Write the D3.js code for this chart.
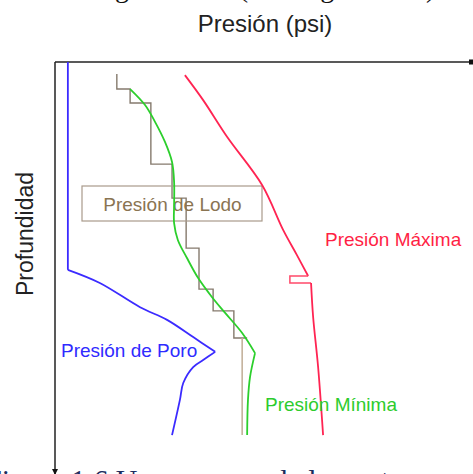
<!DOCTYPE html>
<html>
<head>
<meta charset="utf-8">
<script src="https://cdn.jsdelivr.net/npm/d3@7"></script>
<style>
  html, body { margin: 0; padding: 0; background: #fff; overflow: hidden; }
  svg { display: block; }
</style>
</head>
<body>
<svg id="chart" width="473" height="474"></svg>
<script>
// ---- Data (pressure in psi, depth in ft) ----
const porePsi   = [310, 310, 1080, 2050, 2700, 3330, 3860, 3570, 3330, 3090, 3010, 2820];
const poreDepth = [0, 5070, 5390, 5980, 6290, 6710, 7070, 7270, 7440, 7830, 8240, 9100];
const poreCorners = [1, 6];

const minPsi   = [1810, 2170, 2410, 2650, 2820, 2870, 2870, 2870, 2960, 3180, 3450, 3780, 4100, 4510, 4820, 4700, 4650, 4630];
const minDepth = [660, 1050, 1460, 1950, 2440, 2930, 3490, 3930, 4340, 4780, 5270, 5730, 6120, 6610, 7100, 7680, 8240, 9100];
const minCorners = [14];

const maxPsi   = [3130, 3570, 4150, 4990, 5500, 5830, 6100, 5660, 5660, 6170, 6220, 6340, 6460];
const maxDepth = [320, 930, 1830, 3000, 4100, 4710, 5220, 5220, 5390, 5390, 6220, 7440, 9100];
const maxSmooth = [[0, 6], [9, 12]];   // index ranges drawn smooth; the rest is straight

const mudPsi   = [1490, 1810, 2310, 2820, 3160, 3470, 3810, 4310, 4630];
const mudDepth = [290, 660, 1000, 2490, 3320, 4540, 5540, 6070, 6730];

const casingPsi = [4510, 4510];
const casingDepth = [6730, 9100];

const labels = ["Presión de Lodo", "Presión de Poro", "Presión Máxima", "Presión Mínima"];
const xTitle = "Presión (psi)";
const yTitle = "Profundidad";
const captions = ["Figura 1.5 Carga de lodo (Datos generales)", "Figura 1.6 Un esquema de la ventana operacional"];

// ---- Layout ----
const svg = d3.select("#chart");
const x = d3.scaleLinear().domain([0, 10000]).range([55, 470]);
const y = d3.scaleLinear().domain([0, 10000]).range([62, 472]);
const FONT = "'Liberation Sans', Arial, sans-serif";
const SERIF = "'Liberation Serif', 'Times New Roman', serif";

const zip = (a, b) => a.map((v, i) => [v, b[i]]);
const smooth = d3.line().x(d => x(d[0])).y(d => y(d[1])).curve(d3.curveCatmullRom.alpha(0.5));
const straight = d3.line().x(d => x(d[0])).y(d => y(d[1]));

function splitAt(pts, corners) {
  const idx = [0, ...corners, pts.length - 1];
  const segs = [];
  for (let i = 0; i < idx.length - 1; i++) segs.push(pts.slice(idx[i], idx[i + 1] + 1));
  return segs;
}

// Caption fragments (cut off at the page edges, as in the reference)
svg.append("text").attr("x", -47).attr("y", -3)
  .attr("font-family", SERIF).attr("font-size", 28).attr("fill", "#111")
  .text(captions[0]);
svg.append("text").attr("x", -15).attr("y", 490)
  .attr("font-family", SERIF).attr("font-size", 30).attr("fill", "#1c2c5e")
  .text(captions[1]);

// Titles
svg.append("text").attr("x", 265).attr("y", 32).attr("text-anchor", "middle")
  .attr("font-family", FONT).attr("font-size", 24).attr("fill", "#222").text(xTitle);
svg.append("text").attr("transform", "translate(33,234) rotate(-90)").attr("text-anchor", "middle")
  .attr("font-family", FONT).attr("font-size", 23).attr("fill", "#222").text(yTitle);

// Axes
const g = svg.append("g");
g.append("line").attr("x1", x(0)).attr("x2", x(10000)).attr("y1", y(0)).attr("y2", y(0))
  .attr("stroke", "#222").attr("stroke-width", 1.5);
g.append("rect").attr("x", x(10000) - 1).attr("y", y(0) - 2.5).attr("width", 4).attr("height", 5).attr("fill", "#111");
g.append("line").attr("x1", x(0)).attr("x2", x(0)).attr("y1", y(0)).attr("y2", 474)
  .attr("stroke", "#222").attr("stroke-width", 1.5);
g.append("path").attr("d", `M${x(0) - 3},${469} L${x(0) + 3},${469} L${x(0)},${475} Z`).attr("fill", "#111");

// Mud step line
const mudPts = [];
for (let i = 0; i < mudPsi.length - 1; i++) {
  mudPts.push([mudPsi[i], mudDepth[i]]);
  mudPts.push([mudPsi[i], mudDepth[i + 1]]);
}
mudPts.push([mudPsi[mudPsi.length - 1], mudDepth[mudDepth.length - 1]]);
g.append("path").attr("d", straight(mudPts)).attr("fill", "none")
  .attr("stroke", "#857a6d").attr("stroke-width", 1.4);
g.append("path").attr("d", straight(zip(casingPsi, casingDepth))).attr("fill", "none")
  .attr("stroke", "#c4b29c").attr("stroke-width", 1.6);

// Mud label box
g.append("rect").attr("x", 82).attr("y", 186).attr("width", 180).attr("height", 35)
  .attr("fill", "none").attr("stroke", "#a99a8b").attr("stroke-width", 1.2);
g.append("text").attr("x", 172.5).attr("y", 211).attr("text-anchor", "middle")
  .attr("font-family", FONT).attr("font-size", 19).attr("fill", "#8a7452").text(labels[0]);

// Pore pressure
const pore = zip(porePsi, poreDepth);
splitAt(pore, poreCorners).forEach(seg => {
  g.append("path").attr("d", (seg.length > 2 ? smooth : straight)(seg)).attr("fill", "none")
    .attr("stroke", "#3b2bff").attr("stroke-width", 1.8);
});

// Minimum pressure
const minP = zip(minPsi, minDepth);
splitAt(minP, minCorners).forEach(seg => {
  g.append("path").attr("d", smooth(seg)).attr("fill", "none")
    .attr("stroke", "#2ccf2c").attr("stroke-width", 1.8);
});

// Maximum pressure
const maxP = zip(maxPsi, maxDepth);
const sm = maxSmooth;
g.append("path").attr("d", smooth(maxP.slice(sm[0][0], sm[0][1] + 1))).attr("fill", "none")
  .attr("stroke", "#ff2452").attr("stroke-width", 1.8);
g.append("path").attr("d", straight(maxP.slice(sm[0][1], sm[1][0] + 1))).attr("fill", "none")
  .attr("stroke", "#ff4a6a").attr("stroke-width", 1.5);
g.append("path").attr("d", smooth(maxP.slice(sm[1][0], sm[1][1] + 1))).attr("fill", "none")
  .attr("stroke", "#ff2452").attr("stroke-width", 1.8);

// Labels
g.append("text").attr("x", 61).attr("y", 357).attr("font-family", FONT).attr("font-size", 19)
  .attr("fill", "#2f2bff").text(labels[1]);
g.append("text").attr("x", 325).attr("y", 246).attr("font-family", FONT).attr("font-size", 19)
  .attr("fill", "#ff1f45").text(labels[2]);
g.append("text").attr("x", 265).attr("y", 411).attr("font-family", FONT).attr("font-size", 19)
  .attr("fill", "#2dcc2d").text(labels[3]);
</script>
</body>
</html>
